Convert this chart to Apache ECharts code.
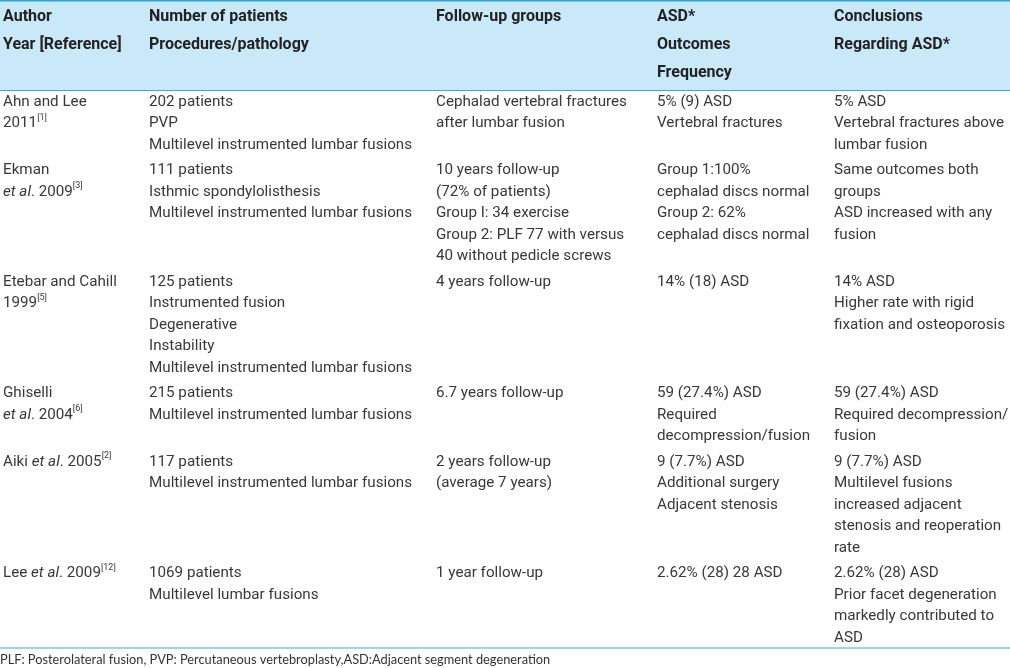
<!DOCTYPE html>
<html>
<head>
<meta charset="utf-8">
<script src="https://cdn.jsdelivr.net/npm/echarts@6/dist/echarts.min.js"></script>
<style>
html,body{margin:0;padding:0;background:#fff;}
#chart{width:1010px;height:668px;}
</style>
</head>
<body>
<div id="chart"></div>
<script>
// ---------- data ----------
const headers = [
  ["Author", "Year [Reference]"],
  ["Number of patients", "Procedures/pathology"],
  ["Follow-up groups"],
  ["ASD*", "Outcomes", "Frequency"],
  ["Conclusions", "Regarding ASD*"]
];
const authors = [
  ["Ahn and Lee", "2011{s|[1]}"],
  ["Ekman", "{i|et al}. 2009{s|[3]}"],
  ["Etebar and Cahill", "1999{s|[5]}"],
  ["Ghiselli", "{i|et al}. 2004{s|[6]}"],
  ["Aiki {i|et al}. 2005{s|[2]}"],
  ["Lee {i|et al}. 2009{s|[12]}"]
];
const patients = [
  ["202 patients", "PVP", "Multilevel instrumented lumbar fusions"],
  ["111 patients", "Isthmic spondylolisthesis", "Multilevel instrumented lumbar fusions"],
  ["125 patients", "Instrumented fusion", "Degenerative", "Instability", "Multilevel instrumented lumbar fusions"],
  ["215 patients", "Multilevel instrumented lumbar fusions"],
  ["117 patients", "Multilevel instrumented lumbar fusions"],
  ["1069 patients", "Multilevel lumbar fusions"]
];
const followUp = [
  ["Cephalad vertebral fractures", "after lumbar fusion"],
  ["10 years follow-up", "(72% of patients)", "Group I: 34 exercise", "Group 2: PLF 77 with versus", "40 without pedicle screws"],
  ["4 years follow-up"],
  ["6.7 years follow-up"],
  ["2 years follow-up", "(average 7 years)"],
  ["1 year follow-up"]
];
const asdOutcomes = [
  ["5% (9) ASD", "Vertebral fractures"],
  ["Group 1:100%", "cephalad discs normal", "Group 2: 62%", "cephalad discs normal"],
  ["14% (18) ASD"],
  ["59 (27.4%) ASD", "Required", "decompression/fusion"],
  ["9 (7.7%) ASD", "Additional surgery", "Adjacent stenosis"],
  ["2.62% (28) 28 ASD"]
];
const conclusions = [
  ["5% ASD", "Vertebral fractures above", "lumbar fusion"],
  ["Same outcomes both", "groups", "ASD increased with any", "fusion"],
  ["14% ASD", "Higher rate with rigid", "fixation and osteoporosis"],
  ["59 (27.4%) ASD", "Required decompression/", "fusion"],
  ["9 (7.7%) ASD", "Multilevel fusions", "increased adjacent", "stenosis and reoperation", "rate"],
  ["2.62% (28) ASD", "Prior facet degeneration", "markedly contributed to", "ASD"]
];
const footnote = "PLF: Posterolateral fusion, PVP: Percutaneous vertebroplasty,ASD:Adjacent segment degeneration";

// ---------- layout (kept separate from data) ----------
const W = 1010, H = 668;
const columns = [authors, patients, followUp, asdOutcomes, conclusions];
const colX = [3, 149, 436, 657, 834];
const headTop = 3, headLH = 28, headBottom = 90.5;
const bodyLH = 21.5, firstBodyTop = 102 - bodyLH / 2, rowGap = 4;
const FONT = "Roboto, 'Liberation Sans', sans-serif";
const FS = 15.2;

const nRows = authors.length;
const rowTops = [];
let yCur = firstBodyTop;
for (let r = 0; r < nRows; r++) {
  rowTops.push(yCur);
  const n = Math.max(...columns.map(c => c[r].length));
  yCur += n * bodyLH + rowGap;
}
const tableBottom = 648;

const richBody = {
  i: { fontFamily: FONT, fontSize: FS, fontStyle: 'italic', lineHeight: bodyLH, fill: '#383838' },
  s: { fontFamily: FONT, fontSize: 9, lineHeight: 15, verticalAlign: 'top', fill: '#383838' }
};

const cellData = [];
for (let c = 0; c < columns.length; c++) {
  for (let r = 0; r < nRows; r++) cellData.push([c, r]);
}
const headData = headers.map((h, c) => [c]);

const chart = echarts.init(document.getElementById('chart'), null, { renderer: 'canvas' });
chart.setOption({
  animation: false,
  backgroundColor: '#ffffff',
  title: {
    text: footnote, left: 0, top: 653, padding: 0,
    textStyle: { fontFamily: 'Lato, sans-serif', fontSize: 12.8, fontWeight: 'normal', color: '#333333' }
  },
  grid: { left: 0, right: 0, top: 0, bottom: 0, containLabel: false },
  xAxis: { type: 'value', min: 0, max: W, show: false },
  yAxis: { type: 'value', min: 0, max: H, inverse: true, show: false },
  series: [
    {
      type: 'custom', coordinateSystem: 'cartesian2d', silent: true, z: 1,
      data: [[0]],
      renderItem: function (params, api) {
        const tl = api.coord([0, 0]);
        const hb = api.coord([W, headBottom]);
        const bb = api.coord([W, tableBottom]);
        return {
          type: 'group',
          children: [
            { type: 'rect', shape: { x: tl[0], y: tl[1], width: hb[0] - tl[0], height: hb[1] - tl[1] }, style: { fill: '#c9e8f8' } },
            { type: 'line', shape: { x1: tl[0], y1: tl[1] + 0.75, x2: hb[0], y2: tl[1] + 0.75 }, style: { stroke: '#2aa3d8', lineWidth: 1.5 } },
            { type: 'line', shape: { x1: tl[0], y1: hb[1], x2: hb[0], y2: hb[1] }, style: { stroke: '#3aa9da', lineWidth: 1 } },
            { type: 'line', shape: { x1: tl[0], y1: bb[1], x2: bb[0], y2: bb[1] }, style: { stroke: '#3ab0cc', lineWidth: 1.2 } }
          ]
        };
      }
    },
    {
      type: 'custom', coordinateSystem: 'cartesian2d', silent: true, z: 2,
      data: headData,
      renderItem: function (params, api) {
        const c = api.value(0);
        const p = api.coord([colX[c], headTop]);
        return {
          type: 'text', x: p[0], y: p[1],
          style: {
            text: headers[c].join('\n'),
            fontFamily: FONT, fontSize: 16, fontWeight: 'bold',
            lineHeight: headLH, fill: '#222222', verticalAlign: 'top', align: 'left'
          }
        };
      }
    },
    {
      type: 'custom', coordinateSystem: 'cartesian2d', silent: true, z: 2,
      data: cellData,
      renderItem: function (params, api) {
        const c = api.value(0), r = api.value(1);
        const p = api.coord([colX[c], rowTops[r]]);
        return {
          type: 'text', x: p[0], y: p[1],
          style: {
            text: columns[c][r].join('\n'),
            fontFamily: FONT, fontSize: FS,
            lineHeight: bodyLH, fill: '#383838', verticalAlign: 'top', align: 'left',
            rich: richBody
          }
        };
      }
    }
  ]
});
</script>
</body>
</html>
